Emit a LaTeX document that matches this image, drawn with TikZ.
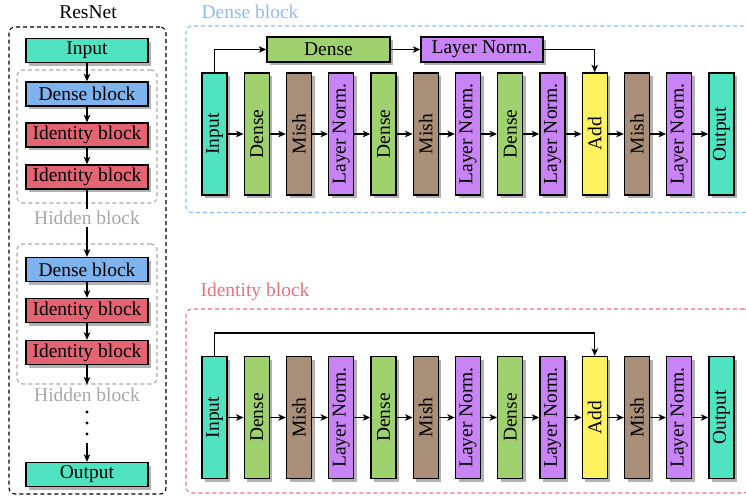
\documentclass[tikz,border=0pt]{standalone}
\usepackage{graphicx}
\usepackage{fontspec}
\setmainfont{Liberation Serif}
\usetikzlibrary{arrows.meta,shadows}
\definecolor{cin}{HTML}{50E3C2}
\definecolor{cdb}{HTML}{7FB3EE}
\definecolor{cib}{HTML}{E46474}
\definecolor{cdense}{HTML}{9FD16E}
\definecolor{cmish}{HTML}{A98F78}
\definecolor{cln}{HTML}{C884F5}
\definecolor{cadd}{HTML}{FFF25F}
\definecolor{lblue}{HTML}{8DBDF0}
\definecolor{lred}{HTML}{E8707F}
\definecolor{lgray}{HTML}{A8A8A8}
\begin{document}
\begin{tikzpicture}[x=1pt,y=-1pt,
  font=\fontsize{19.5}{22}\selectfont,
  blk/.style={draw=black, line width=1.4pt, inner sep=0pt,
    drop shadow={shadow xshift=3pt, shadow yshift=-3pt, fill=black!30, opacity=1}},
  hblk/.style={blk, minimum width=122pt, minimum height=24pt},
  vblk/.style={blk, minimum width=25pt, minimum height=122pt},
  arr/.style={-{Stealth[length=7.5pt,width=6.5pt,inset=2pt]}, line width=1.1pt},
  plain/.style={line width=1.1pt},
  frame/.style={draw, dash pattern=on 4pt off 3pt, line width=1.1pt, rounded corners=6pt, inner sep=0pt},
]
\useasboundingbox (0,0) rectangle (746,496);

% ---------- left panel ----------
\node (resnet) at (88,12) {ResNet};
\node[frame, draw=black, minimum width=157pt, minimum height=467pt] (outer) at (87.5,260.5) {};
\node[frame, draw=lgray, minimum width=140pt, minimum height=133pt] (hbox1) at (87,136.5) {};
\node[frame, draw=lgray, minimum width=140pt, minimum height=140pt] (hbox2) at (87,314) {};

\node[hblk, fill=cin] (inL) at (87,50.5) {Input};
\node[hblk, fill=cdb] (db1) at (87,94) {Dense block};
\node[hblk, fill=cib] (id1) at (87,135) {Identity block};
\node[hblk, fill=cib] (id2) at (87,177) {Identity block};
\node[text=lgray, inner sep=2pt] (hl1) at (87,218) {Hidden block};
\node[hblk, fill=cdb] (db2) at (87,269.5) {Dense block};
\node[hblk, fill=cib] (id3) at (87,310.5) {Identity block};
\node[hblk, fill=cib] (id4) at (87,352.5) {Identity block};
\node[text=lgray, inner sep=2pt] (hl2) at (87,395) {Hidden block};
\node[hblk, fill=cin] (outL) at (87,474.5) {Output};

\coordinate (vd) at (87,423);
\foreach \yy in {412,423,434} \fill (87,\yy) circle (1.7pt);
\coordinate (vdend) at (87,443);

\draw[arr] (inL) -- (db1);
\draw[arr] (db1) -- (id1);
\draw[arr] (id1) -- (id2);
\draw[plain] (id2.south) -- (hl1.north);
\draw[arr] (hl1.south) -- (db2.north);
\draw[arr] (db2) -- (id3);
\draw[arr] (id3) -- (id4);
\draw[arr] (id4.south) -- (hbox2.south);
\draw[arr] (vdend) -- (outL.north);

% ---------- frames right ----------
\node[text=lblue] (dbl) at (250,12) {Dense block};
\node[frame, draw=lblue, minimum width=564pt, minimum height=186.5pt] (dframe) at (468,119.25) {};
\node[text=lred] (ibl) at (255,292) {Identity block};
\node[frame, draw=lred, minimum width=564pt, minimum height=184pt] (iframe) at (468,401) {};

% ---------- columns ----------
\foreach [count=\i] \t/\c in {Input/cin, Dense/cdense, Mish/cmish, Layer Norm./cln, Dense/cdense, Mish/cmish, Layer Norm./cln, Dense/cdense, Layer Norm./cln, Add/cadd, Mish/cmish, Layer Norm./cln, Output/cin} {
  \node[vblk, fill=\c] (d\i) at ({214.5+42.25*(\i-1)},134) {\rotatebox{90}{\t}};
  \node[vblk, fill=\c] (i\i) at ({214.5+42.25*(\i-1)},417.5) {\rotatebox{90}{\t}};
}
\foreach \i [evaluate=\i as \j using int(\i+1)] in {1,...,12} {
  \draw[arr] (d\i) -- (d\j);
  \draw[arr] (i\i) -- (i\j);
}

% dense block shortcut
\node[blk, fill=cdense, minimum width=123pt, minimum height=25pt] (tdense) at (328.5,49.5) {Dense};
\node[blk, fill=cln, minimum width=122pt, minimum height=25pt] (tln) at (482,49.5) {Layer Norm.};
\draw[arr] (d1.north) |- (tdense.west);
\draw[arr] (tdense) -- (tln);
\draw[arr] (tln.east) -| (d10.north);

% identity shortcut
\coordinate (iskip) at (214.5,333);
\draw[arr] (i1.north) -- (iskip) -| (i10.north);
\end{tikzpicture}
\end{document}
